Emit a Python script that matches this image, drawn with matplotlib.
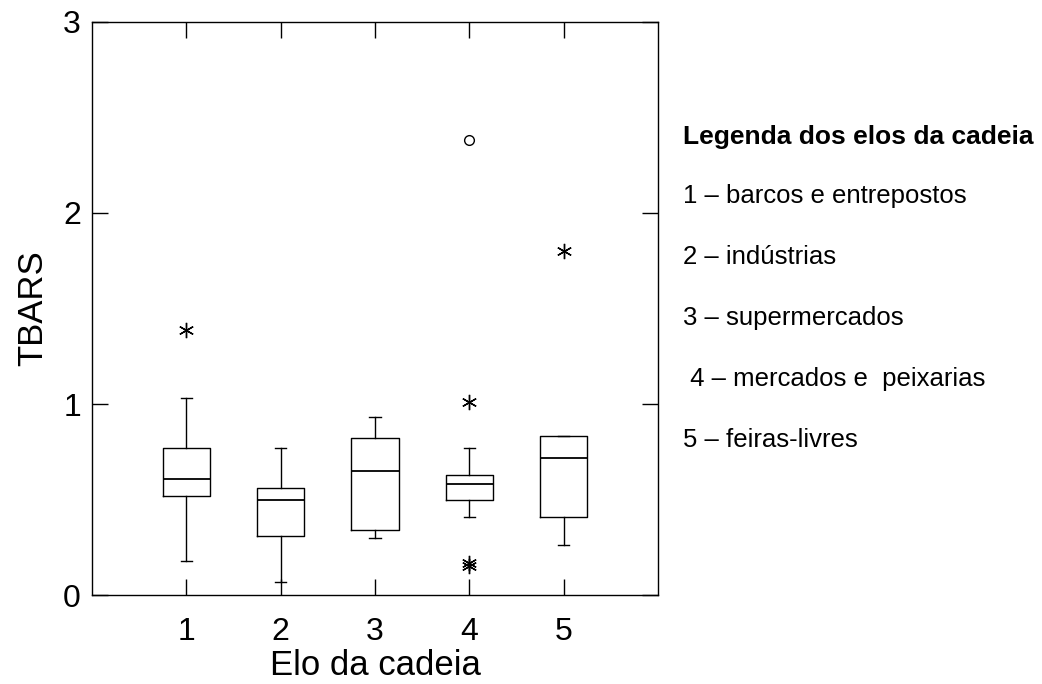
import matplotlib
matplotlib.use('Agg')
import matplotlib.pyplot as plt

plt.rcParams['font.family'] = ['Liberation Sans', 'DejaVu Sans']

# box statistics per link of the chain (TBARS)
elos = [1, 2, 3, 4, 5]
whis_lo = [0.18, 0.07, 0.30, 0.41, 0.26]
q1 = [0.52, 0.31, 0.34, 0.50, 0.41]
med = [0.61, 0.50, 0.65, 0.58, 0.72]
q3 = [0.77, 0.56, 0.82, 0.63, 0.83]
whis_hi = [1.03, 0.77, 0.93, 0.77, 0.83]

# extreme values (asterisk) and outliers (circle)
extremos_x = [1, 4, 4, 4, 5]
extremos_y = [1.39, 1.01, 0.15, 0.17, 1.80]
outliers_x = [4]
outliers_y = [2.38]

legenda_titulo = 'Legenda dos elos da cadeia'
legenda_itens = ['1 \u2013 barcos e entrepostos',
                 '2 \u2013 indústrias',
                 '3 \u2013 supermercados',
                 ' 4 \u2013 mercados e  peixarias',
                 '5 \u2013 feiras-livres']

stats = []
for i in range(len(elos)):
    stats.append({'whislo': whis_lo[i], 'q1': q1[i], 'med': med[i],
                  'q3': q3[i], 'whishi': whis_hi[i], 'fliers': []})

fig = plt.figure(figsize=(10.42, 6.84), dpi=100)
ax = fig.add_axes([0.0883, 0.130, 0.5432, 0.838])

line = dict(color='black', linewidth=1.0)
ax.bxp(stats, positions=elos, widths=0.5, capwidths=0.12,
       boxprops=line, whiskerprops=line, capprops=line,
       medianprops=dict(color='black', linewidth=1.3),
       showfliers=False, manage_ticks=False)

ax.plot(extremos_x, extremos_y, linestyle='none', marker=(6, 2, 0),
        markersize=11, markeredgecolor='black', markeredgewidth=1.0)
ax.plot(outliers_x, outliers_y, linestyle='none', marker='o',
        markersize=7, markerfacecolor='none', markeredgecolor='black',
        markeredgewidth=1.0)

ax.set_xlim(0, 6)
ax.set_ylim(0, 3)
ax.set_xticks(elos)
ax.set_yticks([0, 1, 2, 3])
ax.tick_params(direction='in', length=11.5, width=1.0, labelsize=23,
               top=True, right=True)
ax.tick_params(axis='x', pad=16)
ax.tick_params(axis='y', pad=8)
for s in ax.spines.values():
    s.set_linewidth(1.0)

ax.set_xlabel('Elo da cadeia', fontsize=25, labelpad=1)
ax.set_ylabel('TBARS', fontsize=25, labelpad=10)

fig.text(683 / 1042, 1 - 137 / 684, legenda_titulo, fontsize=19,
         fontweight='bold', va='center', ha='left')
for k, item in enumerate(legenda_itens):
    fig.text(683 / 1042, 1 - (196 + 61 * k) / 684, item, fontsize=18.5,
             va='center', ha='left')

fig.savefig('out.png', dpi=100, facecolor='white')
